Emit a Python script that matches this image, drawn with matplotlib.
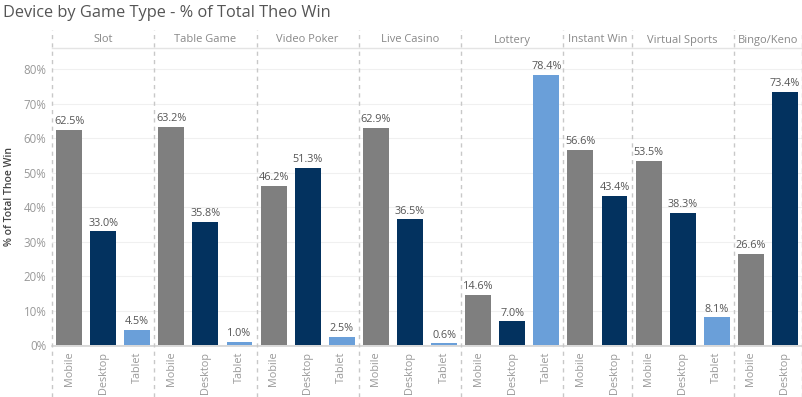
import matplotlib
matplotlib.use('Agg')
import matplotlib.pyplot as plt
from matplotlib.transforms import blended_transform_factory
from matplotlib.lines import Line2D

plt.rcParams['font.family'] = ['Open Sans', 'DejaVu Sans']

# datos
game_types = ['Slot', 'Table Game', 'Video Poker', 'Live Casino', 'Lottery',
              'Instant Win', 'Virtual Sports', 'Bingo/Keno']
devices = [
    ['Mobile', 'Desktop', 'Tablet'],
    ['Mobile', 'Desktop', 'Tablet'],
    ['Mobile', 'Desktop', 'Tablet'],
    ['Mobile', 'Desktop', 'Tablet'],
    ['Mobile', 'Desktop', 'Tablet'],
    ['Mobile', 'Desktop'],
    ['Mobile', 'Desktop', 'Tablet'],
    ['Mobile', 'Desktop'],
]
values = [
    [62.5, 33.0, 4.5],
    [63.2, 35.8, 1.0],
    [46.2, 51.3, 2.5],
    [62.9, 36.5, 0.6],
    [14.6, 7.0, 78.4],
    [56.6, 43.4],
    [53.5, 38.3, 8.1],
    [26.6, 73.4],
]
colores = {'Mobile': '#7f7f7f', 'Desktop': '#03325f', 'Tablet': '#6a9fd9'}

fig = plt.figure(figsize=(8.03, 3.97), dpi=100)
ax = fig.add_axes([52 / 803, (397 - 346) / 397, 750 / 803, (346 - 48) / 397])

pos = 0
xs, labels, limites = [], [], [0 - 0.5]
for g, devs, vals in zip(game_types, devices, values):
    for d, v in zip(devs, vals):
        ax.bar(pos, v, width=0.76, color=colores[d], zorder=3)
        ax.text(pos, v + 0.8, f'{v:.1f}%', ha='center', va='bottom',
                fontsize=7.8, color='#555555', zorder=4)
        xs.append(pos)
        labels.append(d)
        pos += 1
    limites.append(pos - 0.5)

ax.set_xlim(-0.5, pos - 0.5)
ax.set_ylim(-0.15, 86.1)
ax.set_xticks(xs)
ax.set_xticklabels(labels, rotation=90, fontsize=7.8, color='#999999')
ax.set_yticks(range(0, 90, 10))
ax.set_yticklabels([f'{t}%' for t in range(0, 90, 10)], fontsize=8.3, color='#999999')
ax.tick_params(length=0, pad=4)
ax.grid(axis='y', color='#f0f0f0', linewidth=0.8, zorder=0)
for s in ['top', 'right', 'left']:
    ax.spines[s].set_visible(False)
ax.spines['bottom'].set_color('#d4d4d4')
ax.spines['bottom'].set_linewidth(1.2)

# separadores y encabezados
tr = blended_transform_factory(ax.transData, fig.transFigure)
for x in limites:
    fig.add_artist(Line2D([x, x], [0, (397 - 30) / 397], transform=tr,
                          color='#c8c8c8', linestyle=(0, (3, 3)), linewidth=1))
fig.add_artist(Line2D([52 / 803, 1], [(397 - 48) / 397] * 2,
                      transform=fig.transFigure, color='#e4e4e4', linewidth=1))
for i, g in enumerate(game_types):
    c = (limites[i] + limites[i + 1]) / 2
    t = fig.text(0, (397 - 40) / 397, g, transform=tr, ha='center', va='center',
                 fontsize=8, color='#888888')
    t.set_x(c)

fig.text(3 / 803, (397 - 13) / 397, 'Device by Game Type - % of Total Theo Win',
         fontsize=11.8, color='#555555', va='center', ha='left')
fig.text(10 / 803, (397 - 197) / 397, '% of Total Thoe Win', rotation=90,
         fontsize=7.5, color='#444444', va='center', ha='center', fontweight='semibold')

fig.savefig('out.png', dpi=100)
